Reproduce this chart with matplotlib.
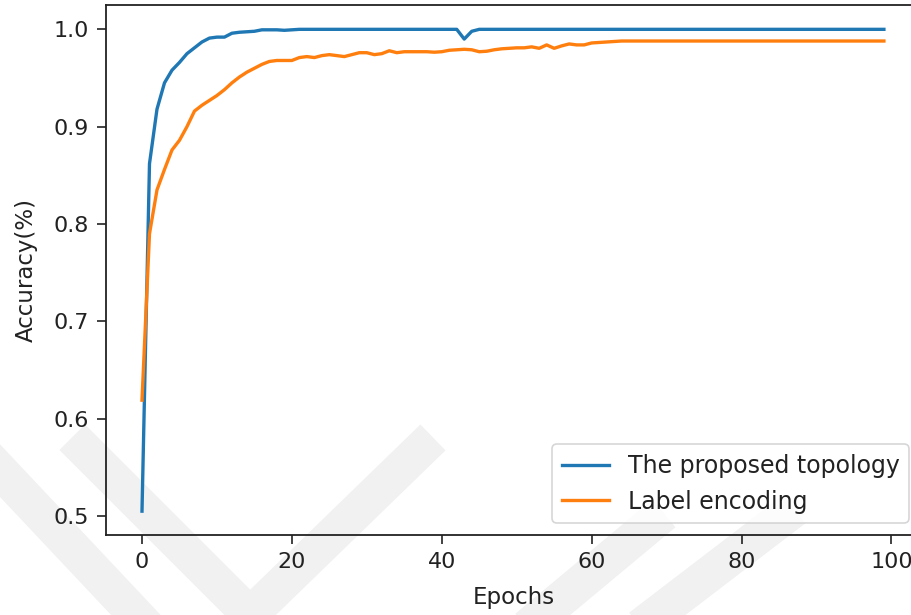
import matplotlib
matplotlib.use("Agg")
import matplotlib.pyplot as plt
from matplotlib.lines import Line2D

epochs = list(range(100))

proposed = [0.505, 0.862, 0.918, 0.945, 0.958, 0.966, 0.975, 0.981, 0.987, 0.991,
            0.992, 0.992, 0.996, 0.997, 0.9975, 0.998, 0.9995, 0.9995, 0.9995, 0.999,
            0.9995] + [1.0] * 22 + [0.990, 0.998] + [1.0] * 55

label_enc = [0.619, 0.790, 0.835, 0.856, 0.876, 0.886, 0.900, 0.916, 0.922, 0.927,
             0.932, 0.938, 0.945, 0.951, 0.956, 0.960, 0.964, 0.967, 0.968, 0.968,
             0.968, 0.971, 0.972, 0.971, 0.973, 0.974, 0.973, 0.972, 0.974, 0.976,
             0.976, 0.974, 0.975, 0.978, 0.976, 0.977, 0.977, 0.977, 0.977, 0.9765,
             0.977, 0.9785, 0.979, 0.9795, 0.979, 0.977, 0.9775, 0.979, 0.980, 0.9805,
             0.981, 0.981, 0.982, 0.9805, 0.984, 0.9805, 0.983, 0.985, 0.984, 0.984,
             0.986, 0.9865, 0.987, 0.9875] + [0.988] * 36

series_names = ["The proposed topology", "Label encoding"]
colors = ["#1f77b4", "#ff7f0e"]

W, H = 912, 615
fig = plt.figure(figsize=(W / 100, H / 100), dpi=100)

# faint background watermark (decorative)
def px(x, y):
    return (x / W, 1 - y / H)

wm = [
    [(85, 450), (250, 615), (420, 450)],
    [(-10, 460), (150, 630)],
    [(500, 650), (650, 525)],
    [(610, 650), (780, 520)],
]
for pts in wm:
    xs, ys = zip(*[px(*p) for p in pts])
    fig.add_artist(Line2D(xs, ys, transform=fig.transFigure, color="#f1f1f1",
                          lw=26, solid_joinstyle="miter", zorder=0))

x_per = 7.494
x0 = 142.0
xmin, xmax = -4.75, 103.95
left_px = x0 + xmin * x_per
width_px = (xmax - xmin) * x_per
ax = fig.add_axes([left_px / W, 1 - 535 / H, width_px / W, 530 / H])
ax.set_facecolor("none")

ax.plot(epochs, proposed, color=colors[0], lw=2.4, label=series_names[0])
ax.plot(epochs, label_enc, color=colors[1], lw=2.4, label=series_names[1])

ax.set_xlim(xmin, xmax)
ax.set_ylim(0.4805, 1.025)
ax.set_xticks([0, 20, 40, 60, 80, 100])
ax.set_yticks([0.5, 0.6, 0.7, 0.8, 0.9, 1.0])
ax.tick_params(labelsize=16, length=6.5, width=1.2, pad=6, colors="#222222",
               labelcolor="#222222")
for s in ax.spines.values():
    s.set_linewidth(1.3)
    s.set_color("#222222")
ax.set_xlabel("Epochs", fontsize=16.5, labelpad=10, color="#222222")
ax.set_ylabel("Accuracy(%)", fontsize=16.5, labelpad=11, color="#222222")
leg = ax.legend(loc="lower right", fontsize=17, borderaxespad=0.5)
leg.get_frame().set_linewidth(1.2)
for t in leg.get_texts():
    t.set_color("#222222")

fig.savefig("out.png", dpi=100)
